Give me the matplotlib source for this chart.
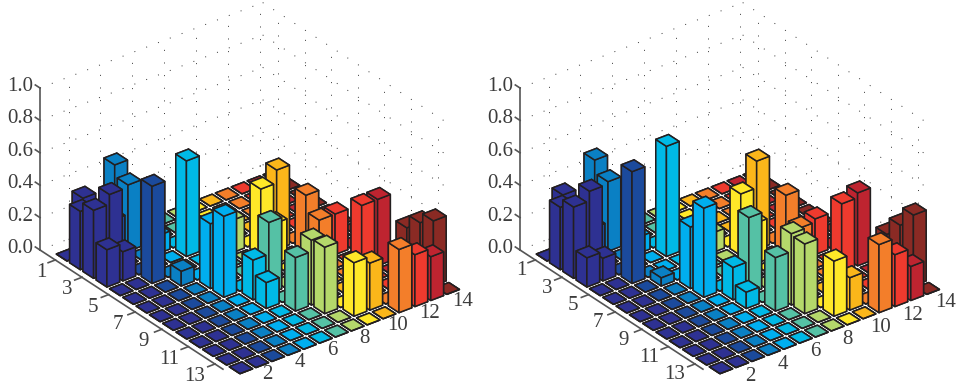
import numpy as np
import matplotlib
matplotlib.use("Agg")
import matplotlib.pyplot as plt
from mpl_toolkits.mplot3d import proj3d

plt.rcParams['font.family'] = ['Liberation Serif', 'DejaVu Serif']

# cells that have a visible bar (row, column), 1-based
rows = [1, 2, 3, 3, 4, 4, 5, 1, 2, 2, 6, 4, 3, 8, 7, 9, 10, 9, 11, 11, 12, 5,
        6, 7, 13, 6, 13, 7, 8, 14, 8, 10, 14, 10, 14, 11, 12, 13]
cols = [2, 1, 1, 2, 1, 2, 3, 4, 4, 3, 4, 6, 5, 5, 5, 6, 6, 7, 7, 8, 8, 8,
        9, 9, 9, 10, 10, 11, 11, 11, 12, 12, 12, 13, 13, 14, 14, 14]

left_vals = [0.35, 0.36, 0.42, 0.48, 0.23, 0.18, 0.60, 0.48, 0.41, 0.23, 0.09, 0.59, 0.11,
             0.50, 0.40, 0.245, 0.16, 0.44, 0.33, 0.40, 0.41, 0.20,
             0.41, 0.25, 0.33, 0.49, 0.29, 0.35, 0.25, 0.39, 0.25, 0.41, 0.32,
             0.41, 0.27, 0.25, 0.335, 0.40]
right_vals = [0.37, 0.385, 0.44, 0.50, 0.18, 0.14, 0.69, 0.51, 0.43, 0.18, 0.05, 0.68, 0.10,
              0.55, 0.38, 0.20, 0.10, 0.47, 0.33, 0.44, 0.43, 0.12,
              0.38, 0.25, 0.34, 0.545, 0.20, 0.35, 0.20, 0.42, 0.22, 0.42, 0.32,
              0.45, 0.21, 0.21, 0.32, 0.436]

col_colors = ['#2E3192', '#2E3192', '#1B4A9C', '#0A80C4', '#00AEEF', '#00B9E6', '#55C1A5',
              '#B5D86B', '#FFE828', '#FBB61A', '#F37E2A', '#EE3A2E', '#BE2430', '#8A2A24']

z_ticks = [0.0, 0.2, 0.4, 0.6, 0.8, 1.0]
row_ticks = [1, 3, 5, 7, 9, 11, 13]
col_ticks = [2, 4, 6, 8, 10, 12, 14]

n = 14
xmin, xmax = 0.2, 14.2
rmin, rmax = -0.15, 13.6
axis_color = '#555555'
text_color = '#3c3c3c'
edge = '#231f20'
width = 0.8
label_size = 15


def draw_panel(ax, vals):
    heights = np.zeros((n, n))
    for r, c, v in zip(rows, cols, vals):
        heights[r - 1, c - 1] = v

    ax.computed_zorder = False
    ax.set_proj_type('ortho')
    ax.view_init(elev=30, azim=-127.5)
    ax.set_axis_off()

    # dotted grid on floor and back walls
    grid = dict(color='#333333', lw=0.7, ls=(0, (1, 12)), zorder=1)
    for z in z_ticks:
        ax.plot([xmin, xmax], [rmin, rmin], [z, z], **grid)
        ax.plot([xmax, xmax], [rmin, rmax], [z, z], **grid)
    for c in col_ticks:
        ax.plot([c, c], [rmin, rmin], [0, 1], **grid)
        ax.plot([c, c], [rmin, rmax], [0, 0], **grid)
    for r in row_ticks:
        ax.plot([xmax, xmax], [r, r], [0, 1], **grid)
        ax.plot([xmin, xmax], [r, r], [0, 0], **grid)

    # back to front so bars hide each other properly
    order = 10
    for r in range(1, n + 1):
        for c in range(n, 0, -1):
            ax.bar3d(c - width / 2, r - width / 2, 0, width, width, heights[r - 1, c - 1],
                     color=col_colors[c - 1], edgecolor=edge, linewidth=1.1,
                     shade=False, zorder=order)
            order += 1

    # axis lines and ticks
    line = dict(color=axis_color, lw=1.2, zorder=5)
    ax.plot([xmin, xmin], [rmin, rmin], [0, 1], **line)
    ax.plot([xmin, xmin], [rmin, rmax], [0, 0], **line)
    for z in z_ticks:
        ax.plot([xmin, xmin], [rmin, rmin - 0.35], [z, z], **line)
    for r in row_ticks:
        ax.plot([xmin, xmin - 0.45], [r, r], [0, 0], **line)

    ax.set_xlim(xmin, xmax)
    ax.set_ylim(rmax, rmin)
    ax.set_zlim(0, 1)


def to_px(ax, x, y, z):
    px, py, _ = proj3d.proj_transform(x, y, z, ax.get_proj())
    return ax.transData.transform((px, py))


def place(ax, corner_x, corner_y):
    # line the floor corner up with the reference, 162 px for the z axis
    w, h = fig.get_size_inches() * fig.dpi
    size = 480
    ax.set_box_aspect((280.6, 300.4, 187.0), zoom=1.0)
    ax.set_position([0, 0, size / w, size / h])
    ax.apply_aspect()
    z_len = to_px(ax, xmin, rmin, 1)[1] - to_px(ax, xmin, rmin, 0)[1]
    ax.set_box_aspect((280.6, 300.4, 187.0), zoom=162 / z_len)
    ax.apply_aspect()
    p = to_px(ax, xmin, rmin, 0)
    dx = corner_x - p[0]
    dy = (h - corner_y) - p[1]
    ax.set_position([dx / w, dy / h, size / w, size / h])
    ax.apply_aspect()


def add_labels(ax, row_dy, col_dx, col_dy):
    # tick labels go on the figure at the projected tick position
    w, h = fig.get_size_inches() * fig.dpi
    style = dict(ha='center', va='center', fontsize=label_size, color=text_color)
    for z in z_ticks:
        p = to_px(ax, xmin, rmin, z)
        fig.text((p[0] - 6.5) / w, (p[1] + 1.5) / h, f'{z:.1f}',
                 ha='right', va='center', fontsize=label_size, color=text_color)
    for r in row_ticks:
        p = to_px(ax, xmin, r, 0)
        fig.text((p[0] - 13.6 - 0.53 * (r - 1)) / w, (p[1] + row_dy) / h, str(r), **style)
    for c in col_ticks:
        p = to_px(ax, c, rmax, 0)
        fig.text((p[0] + col_dx + 0.35 * (c - 2)) / w, (p[1] + col_dy) / h, str(c), **style)


fig = plt.figure(figsize=(9.56, 3.85), dpi=100)
ax1 = fig.add_subplot(projection='3d')
ax2 = fig.add_subplot(projection='3d')
draw_panel(ax1, left_vals)
draw_panel(ax2, right_vals)
place(ax1, 40, 250)
place(ax2, 520, 250)
add_labels(ax1, -12.5, 15.5, -16.5)
add_labels(ax2, -11, 18.5, -18)

fig.savefig('out.png', dpi=100)
